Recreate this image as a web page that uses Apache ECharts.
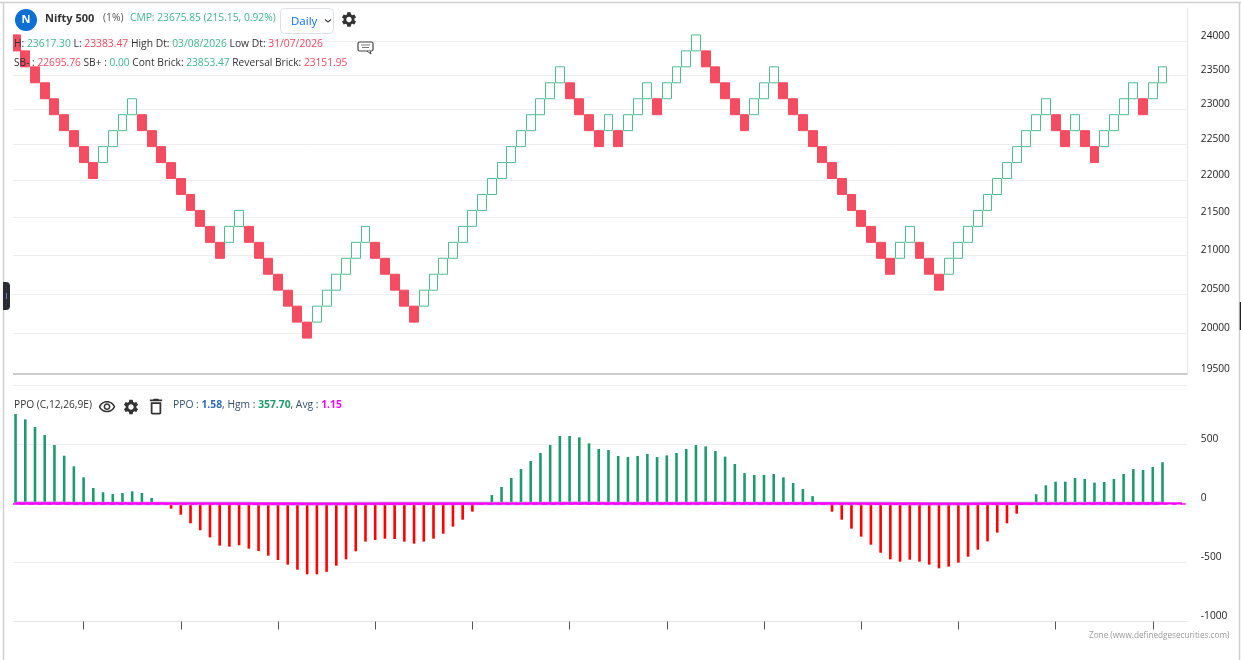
<!DOCTYPE html>
<html>
<head>
<meta charset="utf-8">
<title>Nifty 500 Renko</title>
<script src="https://cdn.jsdelivr.net/npm/echarts@6/dist/echarts.min.js"></script>
<style>html,body{margin:0;padding:0;background:#fff}#c{width:1241px;height:660px}</style>
</head>
<body>
<div id="c"></div>
<script>
// 1% renko price levels, read from the header values and the brick edges
const levels = [19941.93,20141.35,20342.76,20546.19,20751.65,20959.17,21168.76,21380.45,21594.25,21810.19,
  22028.29,22248.57,22471.06,22695.76,22922.72,23151.95,23383.47,23617.30,23853.47,24092.00];
// level index of each brick's lower edge
const brickLevel = [18,17,16,15,14,13,12,11,10, 11,12,13,14, 13,12,11,10,9,8,7,6,5, 6,7, 6,5,4,3,2,1,0,
  1,2,3,4,5,6, 5,4,3,2,1, 2,3,4,5,6,7,8,9,10,11,12,13,14,15,16, 15,14,13,12, 13, 12, 13,14,15, 14,
  15,16,17,18, 17,16,15,14,13, 14,15,16, 15,14,13,12,11,10,9,8,7,6,5,4, 5,6, 5,4,3,
  4,5,6,7,8,9,10,11,12,13,14, 13,12, 13, 12,11, 12,13,14,15, 14, 15,16];
// 1 = rising (hollow green), 0 = falling (solid red)
const brickUp = [0,0,0,0,0,0,0,0,0, 1,1,1,1, 0,0,0,0,0,0,0,0,0, 1,1, 0,0,0,0,0,0,0,
  1,1,1,1,1,1, 0,0,0,0,0, 1,1,1,1,1,1,1,1,1,1,1,1,1,1,1, 0,0,0,0, 1, 0, 1,1,1, 0,
  1,1,1,1, 0,0,0,0,0, 1,1,1, 0,0,0,0,0,0,0,0,0,0,0,0, 1,1, 0,0,0,
  1,1,1,1,1,1,1,1,1,1,1, 0,0, 1, 0,0, 1,1,1,1, 0, 1,1];
// PPO histogram
const histogram = [758,713,648,580,496,405,315,222,131,95,80,89,103,89,47,null,
  -44,-95,-168,-227,-287,-357,-366,-354,-383,-403,-442,-479,-518,-561,-600,-600,-579,-527,-473,-405,-323,-309,-298,-301,
  -323,-340,-323,-298,-256,-196,-137,-69,null,
  72,140,216,292,360,428,496,572,572,561,510,462,453,403,394,403,420,394,408,428,462,496,484,445,397,335,258,242,242,250,222,174,123,63,null,
  -69,-137,-213,-281,-349,-417,-473,-493,-476,-493,-518,-549,-535,-501,-451,-391,-321,-247,-168,-86,null,
  78,154,185,185,216,208,177,182,208,250,292,284,309,350];
// PPO and average lines stay close to zero on this scale
const ppoLine = [2,2,2,2,2,2,1,1,1,1,1,1,1,1,0,0,0,0,-1,-1,-1,-1,-1,-1,-1,-2,-2,-2,-2,-2,-2,-2,-2,-2,-2,-1,-1,-1,-1,-1,
  -1,-1,-1,-1,-1,-1,0,0,0,0,0,1,1,1,1,1,1,2,2,2,2,1,1,1,1,1,1,1,1,1,1,2,2,2,1,1,1,1,1,1,1,1,0,0,
  0,0,-1,-1,-1,-1,-1,-2,-2,-2,-2,-2,-2,-2,-2,-1,-1,-1,-1,0,0,0,0,0,1,1,1,1,1,1,1,1,1,1,1.58];
const avgLine = [1,1,1,1,1,1,1,1,1,1,1,1,1,1,1,1,0,0,0,0,0,-1,-1,-1,-1,-1,-1,-1,-1,-1,-2,-2,-2,-2,-2,-2,-2,-2,-1,-1,
  -1,-1,-1,-1,-1,-1,-1,-1,0,0,0,0,0,1,1,1,1,1,1,1,1,1,1,1,1,1,1,1,1,1,1,1,1,1,1,1,1,1,1,1,1,1,1,1,
  1,0,0,0,-1,-1,-1,-1,-1,-1,-2,-2,-2,-2,-2,-2,-1,-1,-1,-1,-1,0,0,0,0,0,0,1,1,1,1,1,1,1,1,1,1.15];
const priceTicks = [19500,20000,20500,21000,21500,22000,22500,23000,23500,24000];
const ppoTicksMin = -1000, ppoTicksMax = 1000, ppoStep = 500;

const GREEN = '#4dbd92', RED = '#f44c60', HIST_G = '#1f9a6c', MAG = '#ff00ff', FONT = '"Open Sans", "Noto Sans", sans-serif';
const categories = brickLevel.map((_, i) => String(i)).concat(['', '']);
const candles = brickLevel.map((b, i) => {
  const lo = levels[b], hi = levels[b + 1];
  return brickUp[i] ? [lo, hi, lo, hi] : [hi, lo, lo, hi];
});
const GEAR = 'M19.14 12.94c.04-.3.06-.61.06-.94 0-.32-.02-.64-.07-.94l2.03-1.58a.49.49 0 0 0 .12-.61l-1.92-3.32a.488.488 0 0 0-.59-.22l-2.39.96c-.5-.38-1.03-.7-1.62-.94l-.36-2.54a.484.484 0 0 0-.48-.41h-3.84c-.24 0-.43.17-.47.41l-.36 2.54c-.59.24-1.13.57-1.62.94l-2.39-.96c-.22-.08-.47 0-.59.22L2.74 8.87c-.12.21-.08.47.12.61l2.03 1.58c-.05.3-.09.63-.09.94s.02.64.07.94l-2.03 1.58a.49.49 0 0 0-.12.61l1.92 3.32c.12.22.37.29.59.22l2.39-.96c.5.38 1.03.7 1.62.94l.36 2.54c.05.24.24.41.48.41h3.84c.24 0 .44-.17.47-.41l.36-2.54c.59-.24 1.13-.56 1.62-.94l2.39.96c.22.08.47 0 .59-.22l1.92-3.32c.12-.22.07-.47-.12-.61l-2.01-1.58zM12 15.6c-1.98 0-3.6-1.62-3.6-3.6s1.62-3.6 3.6-3.6 3.6 1.62 3.6 3.6-1.62 3.6-3.6 3.6z';
const EYE = 'M12 6c3.79 0 7.17 2.13 8.82 5.5C19.17 14.87 15.79 17 12 17s-7.17-2.13-8.82-5.5C4.83 8.13 8.21 6 12 6m0-2C7 4 2.73 7.11 1 11.5 2.73 15.89 7 19 12 19s9.27-3.11 11-7.5C21.27 7.11 17 4 12 4zm0 5c1.38 0 2.5 1.12 2.5 2.5S13.38 14 12 14s-2.5-1.12-2.5-2.5S10.62 9 12 9m0-2c-2.48 0-4.5 2.02-4.5 4.5S9.52 16 12 16s4.5-2.02 4.5-4.5S14.48 7 12 7z';
const TRASH = 'M16 9v10H8V9h8m-1.5-6h-5l-1 1H5v2h14V4h-3.5l-1-1zM18 7H6v12c0 1.1.9 2 2 2h8c1.1 0 2-.9 2-2V7z';
echarts.graphic.registerShape('iconGear', echarts.graphic.extendPath(GEAR, {}));
echarts.graphic.registerShape('iconEye', echarts.graphic.extendPath(EYE, {}));
echarts.graphic.registerShape('iconTrash', echarts.graphic.extendPath(TRASH, {}));
const icon = (t, cx, cy, s) => ({ type: t, z: 100, x: cx - s / 2, y: cy - s / 2, scaleX: s / 24, scaleY: s / 24, shape: {}, style: { fill: '#333' } });
const line = (x1, y1, x2, y2, c, w) => ({ type: 'line', z: 100, shape: { x1, y1, x2, y2 }, style: { stroke: c, lineWidth: w || 1 } });
const richBase = { a: { fill: '#333' }, g: { fill: '#3fb68b' }, r: { fill: '#f0485e' } };
const rt = (x, y, text, size, rich) => {
  const r = {};
  const src = Object.assign({}, richBase, rich || {});
  Object.keys(src).forEach(k => { r[k] = Object.assign({ fontSize: size, fontFamily: FONT }, src[k]); });
  return { type: 'text', z: 100, x, y, style: { text, rich: r, verticalAlign: 'middle', align: 'left', fontSize: size, fontFamily: FONT } };
};

const chart = echarts.init(document.getElementById('c'), null, { renderer: 'canvas' });
chart.setOption({
  animation: false,
  backgroundColor: '#fff',
  grid: [
    { left: 10.7, width: 1176.1, top: 8, height: 366 },
    { left: 10.7, width: 1176.1, top: 385.5, height: 236 }
  ],
  xAxis: [
    { type: 'category', gridIndex: 0, data: categories, boundaryGap: true,
      axisLine: { onZero: false, lineStyle: { color: '#cccccc', width: 2 } },
      axisTick: { show: false }, axisLabel: { show: false }, splitLine: { show: false } },
    { type: 'category', gridIndex: 1, data: categories, boundaryGap: true, position: 'bottom',
      axisLine: { onZero: false, lineStyle: { color: '#e6e6e6', width: 1 } },
      axisTick: { show: true, alignWithLabel: true, length: 8, interval: (i) => i % 10 === 7, lineStyle: { color: '#555' } },
      axisLabel: { show: false }, splitLine: { show: false } }
  ],
  yAxis: [
    { type: 'log', gridIndex: 0, position: 'right', min: 19500, max: 24500, logBase: 10,
      axisLine: { show: true, lineStyle: { color: '#e8e8e8' } },
      axisTick: { show: false, customValues: priceTicks },
      axisLabel: { customValues: priceTicks, formatter: (v) => String(Math.round(v)), margin: 14, verticalAlign: 'bottom', color: '#222', fontSize: 10.2, fontFamily: FONT, align: 'left' },
      splitLine: { show: true, lineStyle: { color: '#eeeeee', width: 1 } } },
    { type: 'value', gridIndex: 1, position: 'right', min: ppoTicksMin, max: ppoTicksMax, interval: ppoStep,
      axisLine: { show: false }, axisTick: { show: false },
      axisLabel: { formatter: (v) => String(v), margin: 14, verticalAlign: 'bottom', color: '#222', fontSize: 10.2, fontFamily: FONT, align: 'left', showMaxLabel: false },
      splitLine: { show: true, lineStyle: { color: '#eeeeee', width: 1 } } }
  ],
  series: [
    { type: 'candlestick', name: 'Renko', xAxisIndex: 0, yAxisIndex: 0, data: candles, barWidth: 9.4,
      itemStyle: { color: 'rgba(0,0,0,0)', color0: RED, borderColor: GREEN, borderColor0: RED, borderWidth: 1 } },
    { type: 'bar', name: 'Hgm', xAxisIndex: 1, yAxisIndex: 1, data: histogram, barWidth: 2.6,
      itemStyle: { color: (p) => p.value >= 0 ? HIST_G : '#ff0000' } },
    { type: 'line', name: 'PPO', xAxisIndex: 1, yAxisIndex: 1, data: ppoLine, showSymbol: false, z: 4,
      lineStyle: { color: '#c48ae0', width: 3.5 } },
    { type: 'line', name: 'Avg', xAxisIndex: 1, yAxisIndex: 1, data: avgLine, showSymbol: false, z: 5,
      lineStyle: { color: MAG, width: 2.2 } },
    { type: 'line', name: 'Zero', xAxisIndex: 1, yAxisIndex: 1, data: [], z: 6,
      markLine: { silent: true, symbol: 'none', label: { show: false }, data: [{ yAxis: -4 }], z: 6,
        lineStyle: { color: MAG, type: [5, 4], width: 1.5, opacity: 1 } } }
  ],
  graphic: [
    { type: 'rect', z: 99, shape: { x: 10, y: 6, width: 3, height: 620 }, style: { fill: '#fff' } },
    line(0, 2.5, 1241, 2.5, '#cfcfcf', 1.5),
    line(3.5, 2, 3.5, 660, '#cfcfcf', 1.5),
    line(1239.5, 2, 1239.5, 660, '#cfcfcf', 1.5),
    line(1240.5, 302, 1240.5, 330, '#222', 1.5),
    { type: 'rect', z: 100, shape: { x: 3, y: 282, width: 7, height: 28, r: [0, 4, 4, 0] }, style: { fill: '#2b2d33' } },
    line(6.5, 293, 6.5, 299, '#6a78d8', 1),
    { type: 'circle', z: 100, shape: { cx: 26, cy: 20, r: 11 }, style: { fill: '#0d6fd1' } },
    { type: 'text', z: 101, x: 26, y: 20, style: { text: 'N', fill: '#fff', fontSize: 11, fontWeight: 'bold', fontFamily: FONT, align: 'center', verticalAlign: 'middle' } },
    rt(45, 19, '{b|Nifty 500}', 11, { b: { fill: '#333', fontWeight: 'bold' } }),
    rt(103, 18.5, '{a|(1%)}', 10.3, { a: { fill: '#555' } }),
    rt(130, 18.5, '{g|CMP: 23675.85 (215.15, 0.92%)}', 10.25),
    { type: 'rect', z: 100, shape: { x: 280.5, y: 8.5, width: 53, height: 25, r: 4 }, style: { fill: '#fff', stroke: '#dee2e6', lineWidth: 1 } },
    { type: 'text', z: 101, x: 291, y: 21.5, style: { text: 'Daily', fill: '#0d6efd', fontSize: 11.5, fontFamily: FONT, verticalAlign: 'middle' } },
    { type: 'polyline', z: 101, shape: { points: [[325, 19.5], [328, 22], [331, 19.5]] }, style: { stroke: '#444', fill: 'none', lineWidth: 1.2 } },
    icon('iconGear', 349, 19.5, 18),
    rt(14, 44, '{a|H:} {g|23617.30} {a|L:} {r|23383.47} {a|High Dt:} {g|03/08/2026} {a|Low Dt:} {r|31/07/2026}', 10.3),
    rt(14, 63, '{a|SB- :} {r|22695.76} {a|SB+ :} {g|0.00} {a|Cont Brick:} {g|23853.47} {a|Reversal Brick:} {r|23151.95}', 10.2),
    { type: 'rect', z: 100, shape: { x: 358, y: 42, width: 15, height: 9, r: 1.5 }, style: { fill: '#fff', stroke: '#444', lineWidth: 1.2 } },
    { type: 'polyline', z: 100, shape: { points: [[367, 51], [371, 54], [370, 51]] }, style: { stroke: '#444', fill: '#fff', lineWidth: 1 } },
    line(361, 45, 370, 45, '#777', 1), line(362, 47.5, 369, 47.5, '#777', 1),
    rt(14, 405, '{a|PPO (C,12,26,9E)}', 10.2),
    icon('iconEye', 107, 407, 18),
    icon('iconGear', 131, 407, 18),
    icon('iconTrash', 156, 406.5, 21),
    rt(173, 405, '{a|PPO :} {p|1.58}{a|, Hgm :} {h|357.70}{a|, Avg :} {m|1.15}', 10.3, {
      a: { fill: '#34506e' }, p: { fill: '#2f6db5', fontWeight: 'bold' }, h: { fill: '#1f9a6c', fontWeight: 'bold' }, m: { fill: MAG, fontWeight: 'bold' } }),
    { type: 'text', z: 100, x: 1089, y: 635.5, style: { text: 'Zone (www.definedgesecurities.com)', fill: '#999', fontSize: 8.2, fontFamily: FONT, verticalAlign: 'middle' } }
  ]
});
</script>
</body>
</html>
